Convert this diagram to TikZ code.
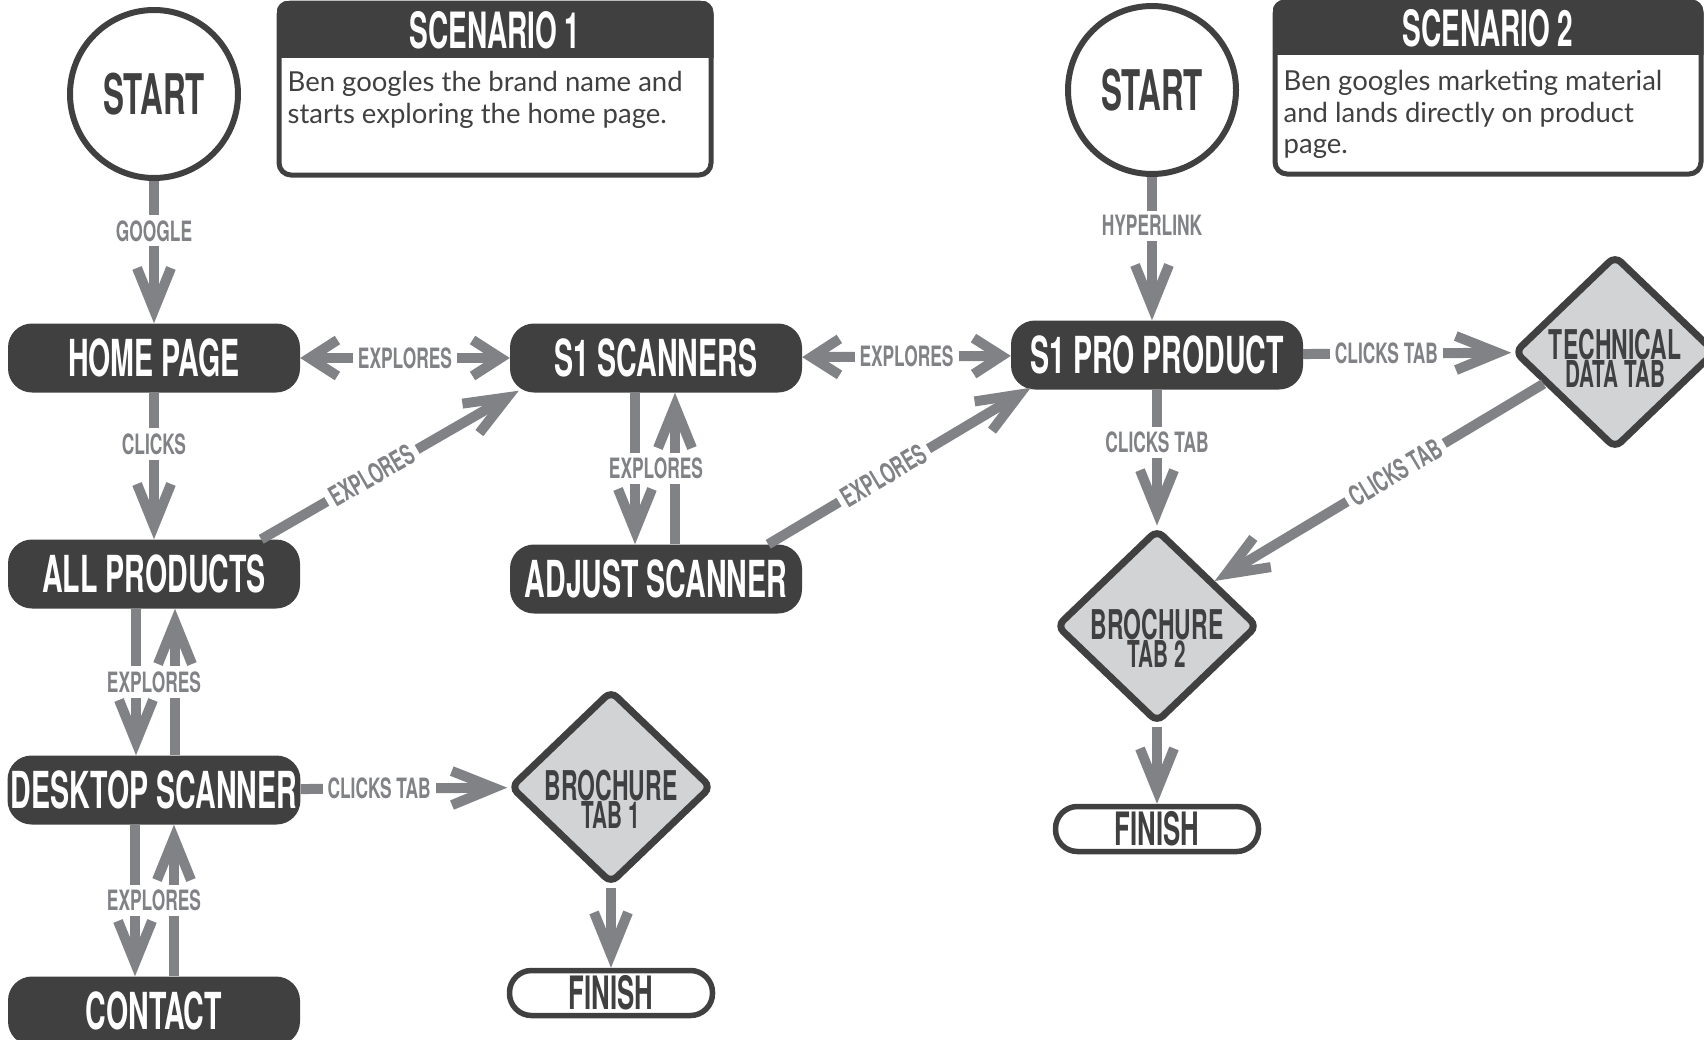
\documentclass[tikz,border=0pt]{standalone}
\usepackage{fontspec}
\setmainfont{Lato}
\newfontfamily\condfont[FakeStretch=0.56]{TeX Gyre Heros}
\newfontfamily\lblfont[FakeStretch=0.62]{TeX Gyre Heros}
\usetikzlibrary{shapes.geometric, arrows.meta, positioning, calc}
\definecolor{dark}{HTML}{404041}
\definecolor{flowgray}{HTML}{808285}
\definecolor{tabfill}{HTML}{D1D3D4}
\tikzstyle{page} = [fill=dark, text=white, rectangle, rounded corners=24pt, minimum width=292pt, minimum height=69pt, font=\condfont\bfseries\fontsize{51}{51}\selectfont]
\tikzstyle{startnode} = [circle, draw=dark, line width=6pt, text=dark, minimum size=168pt, font=\condfont\bfseries\fontsize{56}{56}\selectfont]
\tikzstyle{tab} = [diamond, draw=dark, fill=tabfill, line width=7pt, rounded corners=8pt, minimum width=202pt, minimum height=194pt, inner sep=0pt]
\tikzstyle{tabtext} = [text=dark, align=center, inner sep=0pt, font=\condfont\bfseries\fontsize{41}{28}\selectfont]
\tikzstyle{finish} = [rectangle, draw=dark, line width=5.5pt, rounded corners=22pt, minimum width=203pt, minimum height=45pt, text=dark, font=\condfont\bfseries\fontsize{46}{46}\selectfont]
\tikzstyle{flow} = [draw=flowgray, line width=10pt]
\tikzstyle{lbl} = [fill=white, text=flowgray, inner sep=5pt, font=\lblfont\bfseries\fontsize{28}{28}\selectfont]
\tikzstyle{panel} = [rectangle, draw=dark, line width=5pt, rounded corners=12pt, minimum height=172pt]
\tikzstyle{paneltitle} = [text=white, font=\condfont\bfseries\fontsize{50}{50}\selectfont]
\tikzstyle{paneltext} = [text=dark, align=left, inner sep=0pt, font=\fontsize{27.5}{31.5}\selectfont]
\newcommand{\subline}[1]{{\fontsize{37}{28}\selectfont #1}}

\begin{document}
\begin{tikzpicture}[x=1pt, y=-1pt, >={Straight Barb[length=42pt, width=34pt]}]
  \useasboundingbox (0,0) rectangle (1704,1039);

  % scenario panels
  \node[panel, minimum width=432pt] (scen1) at (495,89) {};
  \begin{scope}
    \clip[rounded corners=12pt] (scen1.south west) rectangle (scen1.north east);
    \fill[dark] (scen1.north west) rectangle ([yshift=-57pt]scen1.north east);
  \end{scope}
  \node[paneltitle] (scen1head) at ([yshift=-30pt]scen1.north) {SCENARIO 1};
  \node[paneltext, anchor=north west] (scen1txt) at ([xshift=11pt, yshift=-71pt]scen1.north west)
    {Ben googles the brand name and\\starts exploring the home page.};

  \node[panel, minimum width=426pt] (scen2) at (1488,88) {};
  \begin{scope}
    \clip[rounded corners=12pt] (scen2.south west) rectangle (scen2.north east);
    \fill[dark] (scen2.north west) rectangle ([yshift=-55pt]scen2.north east);
  \end{scope}
  \node[paneltitle] (scen2head) at ([yshift=-29pt]scen2.north) {SCENARIO 2};
  \node[paneltext, anchor=north west] (scen2txt) at ([xshift=11pt, yshift=-71pt]scen2.north west)
    {Ben googles marketing material\\and lands directly on product\\page.};

  % scenario 1
  \node[startnode] (start1) at (154,94) {START};
  \node[page, below of=start1, node distance=264pt] (home) {HOME PAGE};
  \node[page, below of=home, node distance=216pt] (all) {ALL PRODUCTS};
  \node[page, below of=all, node distance=216pt] (desk) {DESKTOP SCANNER};
  \node[page, below of=desk, node distance=221pt] (contact) {CONTACT};
  \node[page, right of=home, node distance=502pt] (scan) {S1 SCANNERS};
  \node[page, below of=scan, node distance=221pt] (adjust) {ADJUST SCANNER};
  \node[tab, right of=desk, node distance=457pt, yshift=3pt] (tab1) {};
  \node[tabtext] (tab1txt) at ([yshift=-12pt]tab1.center) {BROCHURE\\\subline{TAB 1}};
  \node[finish, below of=tab1, node distance=206pt] (fin1) {FINISH};

  % scenario 2
  \node[startnode] (start2) at (1152,90) {START};
  \node[page, below of=start2, node distance=265pt, xshift=5pt] (pro) {S1 PRO PRODUCT};
  \node[tab, right of=pro, node distance=458pt, yshift=3pt] (tech) {};
  \node[tabtext] (techtxt) at ([yshift=-6pt]tech.center) {TECHNICAL\\\subline{DATA TAB}};
  \node[tab, below of=pro, node distance=271pt] (tab2) {};
  \node[tabtext] (tab2txt) at ([yshift=-12pt]tab2.center) {BROCHURE\\\subline{TAB 2}};
  \node[finish, below of=tab2, node distance=203pt] (fin2) {FINISH};

  % connectors
  \draw[flow, ->] (start1) -- node[lbl, pos=.35] (google) {GOOGLE} (home);
  \draw[flow, ->] (home) -- node[lbl, pos=.35] (clicks) {CLICKS} (all);
  \draw[flow, {Straight Barb[length=28pt, width=36pt]}-{Straight Barb[length=28pt, width=36pt]}] (home) -- node[lbl] (exp1) {EXPLORES} (scan);
  \draw[flow, {Straight Barb[length=28pt, width=36pt]}-{Straight Barb[length=28pt, width=36pt]}] (scan) -- node[lbl] (exp2) {EXPLORES} (pro);
  \draw[flow, ->] ([xshift=-39pt]all.north east) -- node[lbl, sloped, pos=.43] (exp3) {EXPLORES} ([xshift=9pt, yshift=2pt]scan.south west);
  \draw[flow, ->] ([xshift=-34pt]adjust.north east) -- node[lbl, sloped, pos=.44] (exp4) {EXPLORES} ([xshift=20pt, yshift=2pt]pro.south west);
  \draw[flow, ->] ([xshift=-21pt]scan.south) -- ([xshift=-21pt]adjust.north);
  \draw[flow, ->] ([xshift=19pt]adjust.north) -- ([xshift=19pt]scan.south);
  \node[lbl] (exp5) at ($(scan.south)!.5!(adjust.north)$) {EXPLORES};
  \draw[flow, ->] ([xshift=-18pt]all.south) -- ([xshift=-18pt]desk.north);
  \draw[flow, ->] ([xshift=21pt]desk.north) -- ([xshift=21pt]all.south);
  \node[lbl] (exp6) at ($(all.south)!.5!(desk.north)$) {EXPLORES};
  \draw[flow, ->] ([xshift=-19pt]desk.south) -- ([xshift=-19pt]contact.north);
  \draw[flow, ->] ([xshift=20pt]contact.north) -- ([xshift=20pt]desk.south);
  \node[lbl] (exp7) at ($(desk.south)!.5!(contact.north)$) {EXPLORES};
  \draw[flow, ->] (desk) -- node[lbl, pos=.38] (tabclick1) {CLICKS TAB} (tab1);
  \draw[flow, ->] (tab1) -- (fin1);
  \draw[flow, ->] (start2) -- node[lbl, pos=.34] (hyper) {HYPERLINK} (start2 |- pro.north);
  \draw[flow, ->] (pro) -- node[lbl, pos=.4] (tabclick2) {CLICKS TAB} (tech);
  \draw[flow, ->] (pro) -- node[lbl, pos=.39] (tabclick3) {CLICKS TAB} (tab2);
  \draw[flow, ->] (tech.204) -- node[lbl, sloped, pos=.45] (tabclick4) {CLICKS TAB} (tab2.38);
  \draw[flow, ->] (tab2) -- (fin2);
\end{tikzpicture}
\end{document}
